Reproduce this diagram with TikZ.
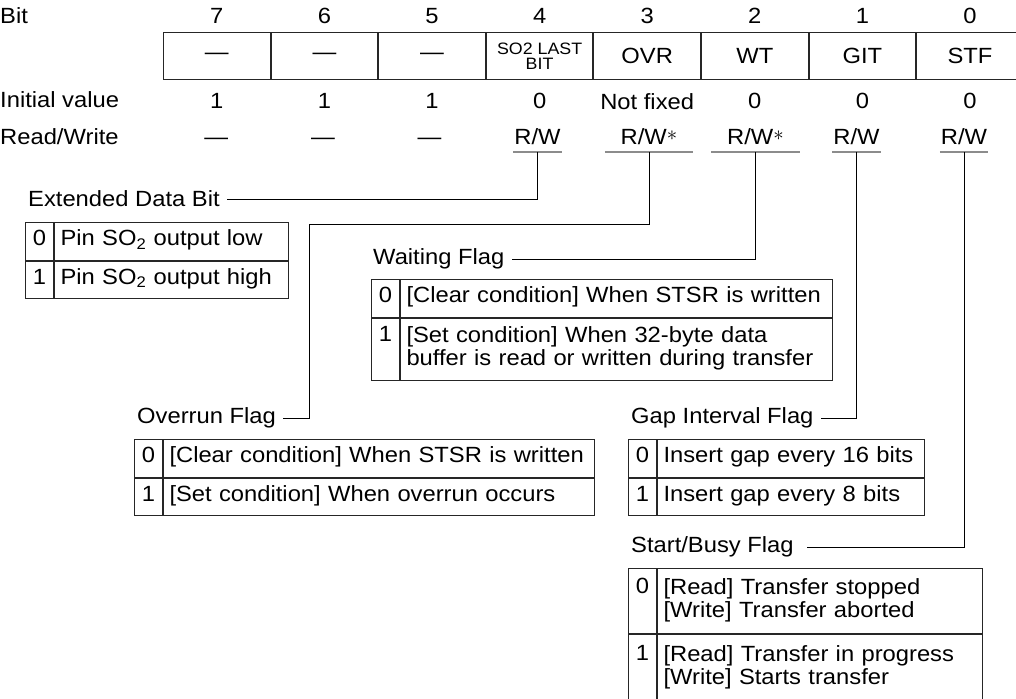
\documentclass[tikz,border=0pt]{standalone}
\usepackage{fontspec}
\setmainfont{Liberation Sans}[FakeStretch=1.08]
\usepackage{tikz}
\usetikzlibrary{positioning}

\begin{document}
\begin{tikzpicture}[
  x=1pt,y=-1pt,
  font=\fontsize{22}{23}\selectfont,
  every node/.style={inner sep=0pt},
  lbl/.style={anchor=west},
  cell/.style={draw=black!85,line width=1pt,minimum width=106.6pt,minimum height=47pt},
  rw/.style={anchor=base,minimum width=48pt,inner ysep=7pt},
  rwstar/.style={anchor=base,minimum width=88pt,inner ysep=7pt},
  flag/.style={anchor=west,inner xsep=7pt},
  key/.style={draw=black!85,line width=1pt,minimum width=28pt,minimum height=#1,align=center,
    execute at begin node=\strut,execute at end node=\strut},
  key/.default=37.5pt,
  desc/.style={draw=black!85,line width=1pt,minimum height=37.5pt,inner xsep=6pt,
    align=left,text width=#1,execute at begin node=\strut,execute at end node=\strut},
  link/.style={line width=1pt},
  uline/.style={draw=black!45,line width=1.3pt},
]
  \useasboundingbox (0,0) rectangle (1016,698);

  % register
  \node[lbl] (hbit) at (0,16) {Bit};
  \node[lbl] (hinit) at (0,100) {Initial value};
  \node[anchor=base west] (hrw) at (0,144.5) {Read/Write};

  \node[cell,anchor=north west] (b7) at (163,32) {—};
  \node[cell,right=0pt of b7] (b6) {—};
  \node[cell,right=0pt of b6] (b5) {—};
  \node[cell,right=0pt of b5,align=center,font=\fontsize{16.5}{15}\selectfont] (b4)
    {SO2 LAST\\BIT};
  \node[cell,right=0pt of b4] (b3) {OVR};
  \node[cell,right=0pt of b3] (b2) {WT};
  \node[cell,right=0pt of b2] (b1) {GIT};
  \node[cell,right=0pt of b1] (b0) {STF};

  \node[above=8pt of b7] (n7) {7};
  \node[above=8pt of b6] (n6) {6};
  \node[above=8pt of b5] (n5) {5};
  \node[above=8pt of b4] (n4) {4};
  \node[above=8pt of b3] (n3) {3};
  \node[above=8pt of b2] (n2) {2};
  \node[above=8pt of b1] (n1) {1};
  \node[above=8pt of b0] (n0) {0};

  \node[below=13pt of b7] (i7) {1};
  \node[below=13pt of b6] (i6) {1};
  \node[below=13pt of b5] (i5) {1};
  \node[below=13pt of b4] (i4) {0};
  \node[below=13pt of b3] (i3) {Not fixed};
  \node[below=13pt of b2] (i2) {0};
  \node[below=13pt of b1] (i1) {0};
  \node[below=13pt of b0] (i0) {0};

  \node[anchor=base] (rw7) at (216.3,144.5) {—};
  \node[anchor=base] (rw6) at (323,144.5) {—};
  \node[anchor=base] (rw5) at (429.6,144.5) {—};
  \node[rw] (rw4) at (537.5,144.5) {R/W};
  \node[rwstar] (rw3) at (649,144.5)
    {R/W\raisebox{4pt}{\fontsize{20}{20}\selectfont$\ast$}};
  \node[rwstar] (rw2) at (755.5,144.5)
    {R/W\raisebox{4pt}{\fontsize{20}{20}\selectfont$\ast$}};
  \node[rw] (rw1) at (856.5,144.5) {R/W};
  \node[rw] (rw0) at (964,144.5) {R/W};

  \draw[uline] (rw4.south west) -- (rw4.south east);
  \draw[uline] (rw3.south west) -- (rw3.south east);
  \draw[uline] (rw2.south west) -- (rw2.south east);
  \draw[uline] (rw1.south west) -- (rw1.south east);
  \draw[uline] (rw0.south west) -- (rw0.south east);

  % Extended Data Bit
  \node[flag] (edb) at (21,199) {Extended Data Bit};
  \node[key,anchor=north west] (edbk0) at (25,222) {0};
  \node[desc=222pt,right=0pt of edbk0] (edbd0) {Pin SO\textsubscript{2} output low};
  \node[key,below=0pt of edbk0] (edbk1) {1};
  \node[desc=222pt,right=0pt of edbk1] (edbd1) {Pin SO\textsubscript{2} output high};

  % Waiting Flag
  \node[flag] (wt) at (366,259) {Waiting Flag};
  \node[key,anchor=north west] (wtk0) at (371,279) {0};
  \node[desc=420pt,right=0pt of wtk0] (wtd0) {[Clear condition] When STSR is written};
  \node[key=62pt,below=0pt of wtk0] (wtk1) {1\\\phantom{1}};
  \node[desc=420pt,minimum height=62pt,right=0pt of wtk1] (wtd1)
    {[Set condition] When 32-byte data\\{}buffer is read or written during transfer};

  % Overrun Flag
  \coordinate (ovrturn) at (309,224);
  \node[flag] (ovr) at (130,418) {Overrun Flag};
  \node[key,anchor=north west] (ovrk0) at (134,439) {0};
  \node[desc=419pt,right=0pt of ovrk0] (ovrd0) {[Clear condition] When STSR is written};
  \node[key,below=0pt of ovrk0] (ovrk1) {1};
  \node[desc=419pt,right=0pt of ovrk1] (ovrd1) {[Set condition] When overrun occurs};

  % Gap Interval Flag
  \node[flag] (git) at (624,418) {Gap Interval Flag};
  \node[key,anchor=north west] (gitk0) at (628,439) {0};
  \node[desc=255pt,right=0pt of gitk0] (gitd0) {Insert gap every 16 bits};
  \node[key,below=0pt of gitk0] (gitk1) {1};
  \node[desc=255pt,right=0pt of gitk1] (gitd1) {Insert gap every 8 bits};

  % Start/Busy Flag
  \node[flag,inner xsep=13pt] (stf) at (618,547) {Start/Busy Flag};
  \node[key=65pt,anchor=north west] (stfk0) at (628,568) {0\\\phantom{0}};
  \node[desc=313pt,minimum height=65pt,right=0pt of stfk0] (stfd0)
    {[Read] Transfer stopped\\{}[Write] Transfer aborted};
  \node[key=67pt,below=0pt of stfk0] (stfk1) {1\\\phantom{1}};
  \node[desc=313pt,minimum height=67pt,right=0pt of stfk1] (stfd1)
    {[Read] Transfer in progress\\{}[Write] Starts transfer};

  % connectors
  \draw[link] (rw4.south) |- (edb.east);
  \draw[link] (rw3.south) |- (ovrturn) |- (ovr.east);
  \draw[link] (rw2.south) |- (wt.east);
  \draw[link] (rw1.south) |- (git.east);
  \draw[link] (rw0.south) |- (stf.east);
\end{tikzpicture}
\end{document}
